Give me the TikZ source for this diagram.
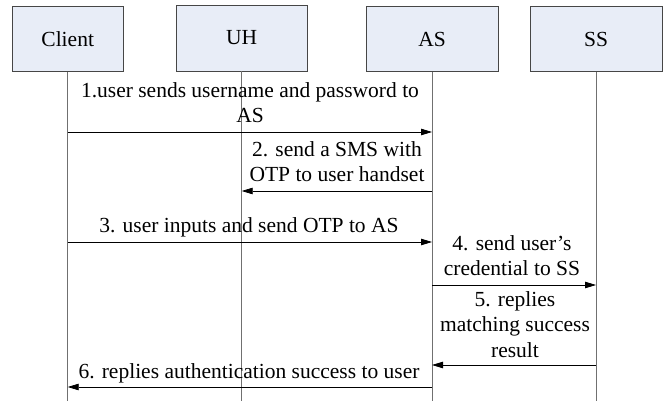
\documentclass[tikz,border=0pt]{standalone}
\usepackage{fontspec}
\setmainfont{Liberation Serif}
\usetikzlibrary{arrows.meta}
\definecolor{boxfill}{RGB}{232,237,247}
\definecolor{boxline}{RGB}{70,70,70}
\definecolor{lifeline}{RGB}{112,112,112}
\begin{document}
\begin{tikzpicture}[x=1pt,y=-1pt,
  every node/.style={font=\fontsize{21.5}{25.5}\selectfont},
  actor/.style={draw=boxline,fill=boxfill,line width=0.9pt,minimum height=65pt,inner sep=0pt},
  life/.style={draw=lifeline,line width=0.9pt},
  msg/.style={draw=black,line width=0.8pt,-{Triangle[length=11pt,width=6.5pt]}},
  lbl/.style={anchor=base,inner sep=0pt}]
\useasboundingbox (0,0) rectangle (665,401);
% actors
\node[actor,minimum width=111pt] (cl) at (67.7,39) {Client};
\node[actor,minimum width=131pt,minimum height=66pt] (uh) at (241.7,38) {UH};
\node[actor,minimum width=132pt] (as) at (432,39) {AS};
\node[actor,minimum width=132pt] (ss) at (596,39) {SS};
% lifeline ends
\coordinate (clE) at (67.7,401);
\coordinate (uhE) at (241.7,401);
\coordinate (asE) at (432,401);
\coordinate (ssE) at (596,401);
\draw[life] (cl.south) -- (clE);
\draw[life] (uh.south) -- (uhE);
\draw[life] (as.south) -- (asE);
\draw[life] (ss.south) -- (ssE);
% messages
\draw[msg] (cl |- 0,132) -- (as |- 0,132);
\node[lbl] (l1) at (250,123) {\begin{tabular}[b]{@{}c@{}}1.user sends username and password to\\AS\end{tabular}};
\draw[msg] (as |- 0,191) -- (uh |- 0,191);
\node[lbl] (l2) at (337,182) {\begin{tabular}[b]{@{}c@{}}2. send a SMS with\\OTP to user handset\end{tabular}};
\draw[msg] (cl |- 0,242) -- (as |- 0,242);
\node[lbl] (l3) at (249,233) {3. user inputs and send OTP to AS};
\draw[msg] (as |- 0,285) -- (ss |- 0,285);
\node[lbl] (l4) at (512,276) {\begin{tabular}[b]{@{}c@{}}4. send user’s\\credential to SS\end{tabular}};
\draw[msg] (ss |- 0,365) -- (as |- 0,365);
\node[lbl] (l5) at (515,357) {\begin{tabular}[b]{@{}c@{}}5. replies\\matching success\\result\end{tabular}};
\draw[msg] (as |- 0,387) -- (cl |- 0,387);
\node[lbl] (l6) at (249,378) {6. replies authentication success to user};
\end{tikzpicture}
\end{document}
